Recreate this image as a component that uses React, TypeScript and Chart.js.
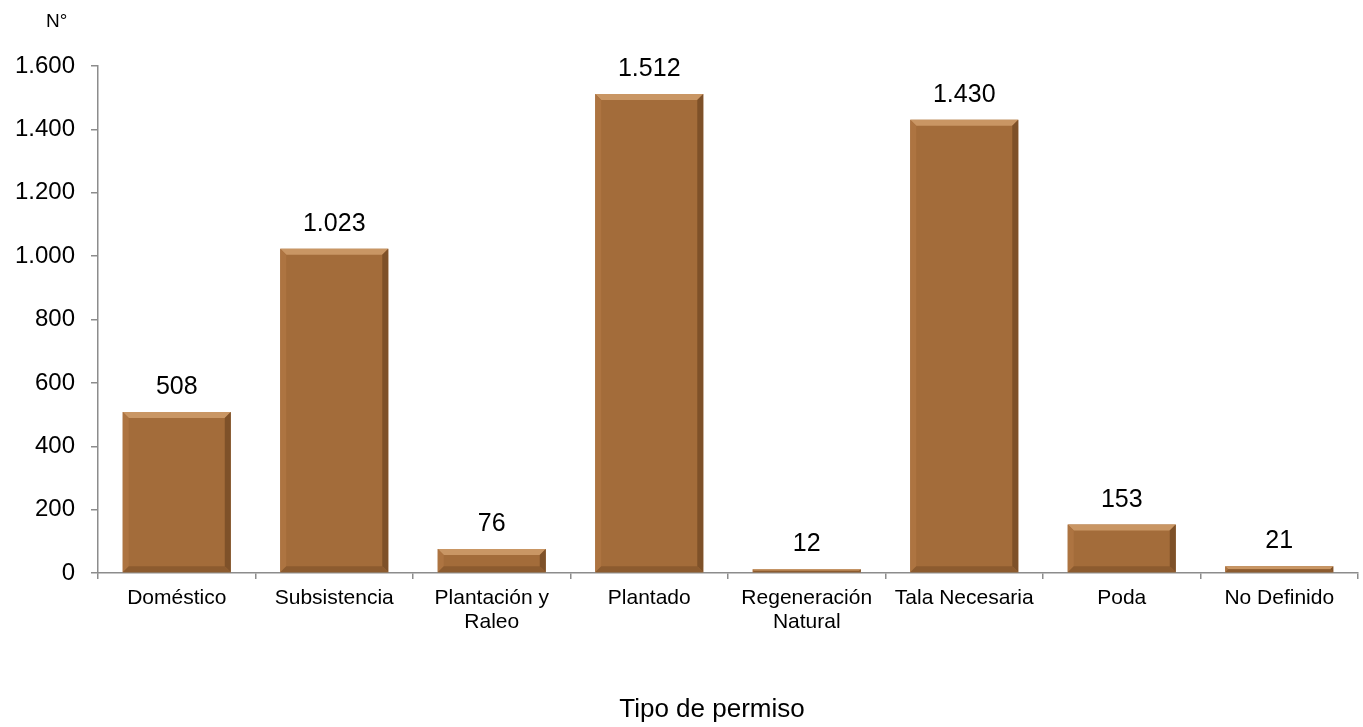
import React, { useEffect, useRef } from "react";
import { Chart, registerables } from "chart.js";

Chart.register(...registerables);

const categories: (string | string[])[] = [
  "Doméstico",
  "Subsistencia",
  ["Plantación y", "Raleo"],
  "Plantado",
  ["Regeneración", "Natural"],
  "Tala Necesaria",
  "Poda",
  "No Definido",
];
const permisos: number[] = [508, 1023, 76, 1512, 12, 1430, 153, 21];
const yTicks = { min: 0, max: 1600, step: 200 };
const yUnit = "N°";
const xTitle = "Tipo de permiso";

const fmt = (v: number) => String(Math.round(v)).replace(/\B(?=(\d{3})+(?!\d))/g, ".");

const FONT = "Arial, 'Liberation Sans', sans-serif";

const bevelPlugin = {
  id: "bevelLabels",
  afterDatasetsDraw(chart: any) {
    const ctx = chart.ctx;
    const meta = chart.getDatasetMeta(0);
    meta.data.forEach((bar: any, i: number) => {
      const { x, y, base, width } = bar.getProps(["x", "y", "base", "width"], true);
      const l = x - width / 2;
      const r = x + width / 2;
      const t = y;
      const b = base;
      const h = b - t;
      const bv = Math.min(6, h / 2);
      ctx.save();
      if (bv > 0.5) {
        ctx.fillStyle = "#C99664";
        ctx.beginPath();
        ctx.moveTo(l, t); ctx.lineTo(r, t); ctx.lineTo(r - bv, t + bv); ctx.lineTo(l + bv, t + bv); ctx.closePath(); ctx.fill();
        ctx.fillStyle = "#AD7441";
        ctx.beginPath();
        ctx.moveTo(l, t); ctx.lineTo(l + bv, t + bv); ctx.lineTo(l + bv, b - bv); ctx.lineTo(l, b); ctx.closePath(); ctx.fill();
        ctx.fillStyle = "#7E5129";
        ctx.beginPath();
        ctx.moveTo(r, t); ctx.lineTo(r - bv, t + bv); ctx.lineTo(r - bv, b - bv); ctx.lineTo(r, b); ctx.closePath(); ctx.fill();
        ctx.fillStyle = "#8C5B2F";
        ctx.beginPath();
        ctx.moveTo(l, b); ctx.lineTo(r, b); ctx.lineTo(r - bv, b - bv); ctx.lineTo(l + bv, b - bv); ctx.closePath(); ctx.fill();
      }
      ctx.fillStyle = "#000";
      ctx.font = `25px ${FONT}`;
      ctx.textAlign = "center";
      ctx.textBaseline = "alphabetic";
      ctx.fillText(fmt(permisos[i]), x, t - 18);
      ctx.restore();
    });
    ctx.save();
    ctx.fillStyle = "#000";
    ctx.textBaseline = "alphabetic";
    ctx.font = `19px ${FONT}`;
    ctx.textAlign = "left";
    ctx.fillText(yUnit, 46, 27);
    ctx.font = `26px ${FONT}`;
    ctx.textAlign = "center";
    ctx.fillText(xTitle, 712, 717);
    ctx.restore();
  },
};

export default function App() {
  const ref = useRef<HTMLCanvasElement>(null);
  useEffect(() => {
    document.body.style.margin = "0";
    const chart = new Chart(ref.current!, {
      type: "bar",
      data: {
        labels: categories,
        datasets: [
          {
            data: permisos,
            backgroundColor: "#A36C3A",
            borderWidth: 0,
            barPercentage: 0.686,
            categoryPercentage: 1,
          },
        ],
      },
      options: {
        animation: false,
        responsive: false,
        devicePixelRatio: 1,
        layout: { padding: { top: 66, right: 5, left: 0, bottom: 0 } },
        plugins: { legend: { display: false }, tooltip: { enabled: false } },
        scales: {
          x: {
            afterFit: (s: any) => { s.height = 154; },
            grid: { drawOnChartArea: false, offset: true, tickLength: 6, color: "#8c8c8c", lineWidth: 1.5 },
            border: { color: "#8c8c8c", width: 1.5 },
            ticks: { color: "#000", font: { family: FONT, size: 21, lineHeight: 1.15 }, maxRotation: 0, autoSkip: false, padding: 7 },
          },
          y: {
            min: yTicks.min,
            max: yTicks.max,
            afterFit: (s: any) => { s.width = 98; },
            grid: { drawOnChartArea: false, tickLength: 7, color: "#8c8c8c", lineWidth: 1.5 },
            border: { color: "#8c8c8c", width: 1.5 },
            ticks: { stepSize: yTicks.step, color: "#000", font: { family: FONT, size: 24 }, padding: 16, callback: (v: any) => fmt(Number(v)) },
          },
        },
      },
      plugins: [bevelPlugin],
    });
    return () => chart.destroy();
  }, []);
  return (
    <div style={{ width: 1363, height: 727, position: "relative" }}>
      <canvas ref={ref} width={1363} height={727} style={{ display: "block" }} />
    </div>
  );
}
